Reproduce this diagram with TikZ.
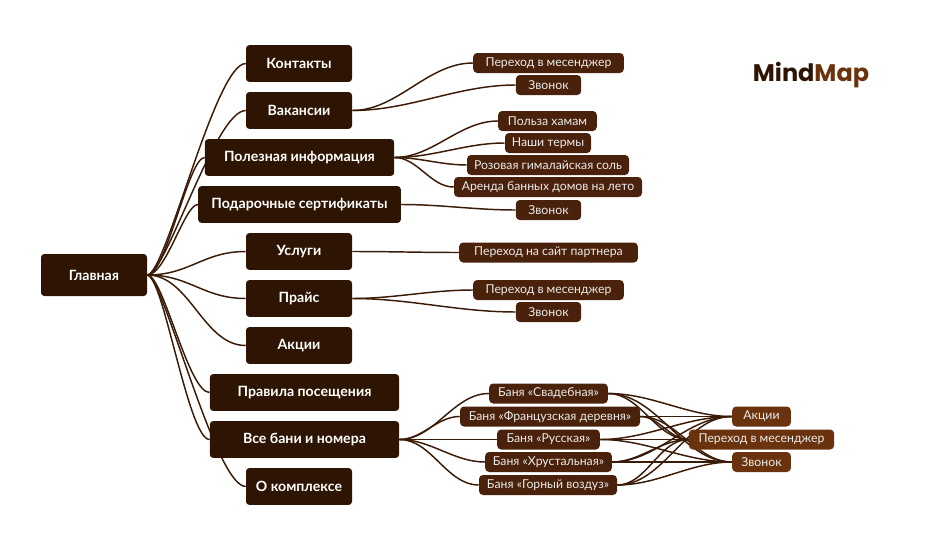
\documentclass[tikz,border=0pt]{standalone}
\usepackage{fontspec}
\setmainfont{Lato}
\newfontfamily\logofont{Poppins}
\usetikzlibrary{backgrounds}
\definecolor{darkbox}{HTML}{2E1503}
\definecolor{midbox}{HTML}{4A220B}
\definecolor{lightbox}{HTML}{6B330D}
\definecolor{linkcol}{HTML}{3A1B07}
\tikzset{
  box/.style={draw=none,fill=darkbox,rounded corners=2.5pt,text=white,font=\fontsize{10.6}{12}\selectfont\bfseries,minimum height=27.6pt,inner sep=0pt},
  sub/.style={fill=midbox,rounded corners=3pt,text=white!92!black,font=\fontsize{9.2}{11}\selectfont,minimum height=15pt,inner sep=0pt},
  acc/.style={sub,fill=lightbox},
  link/.style={draw=linkcol,line width=1.1pt,out=0,in=180,looseness=0.9},
}
\begin{document}
\begin{tikzpicture}[x=0.75pt,y=-0.75pt]
  \useasboundingbox (0,0) rectangle (940,550);

  % корень
  \node[box,minimum width=79.5pt,minimum height=31.5pt] (glav) at (94,275) {Главная};

  % первый уровень
  \node[box,minimum width=79.5pt] (kont) at (299,63.5) {Контакты};
  \node[box,minimum width=79.5pt] (vak) at (299,110.5) {Вакансии};
  \node[box,minimum width=142pt] (pol) at (299.5,157.5) {Полезная информация};
  \node[box,minimum width=152pt] (pod) at (299.5,204.5) {Подарочные сертификаты};
  \node[box,minimum width=79.5pt] (usl) at (299,251.5) {Услуги};
  \node[box,minimum width=79.5pt] (pra) at (299,298.5) {Прайс};
  \node[box,minimum width=79.5pt] (akc) at (299,345.5) {Акции};
  \node[box,minimum width=142pt] (pravila) at (304.5,392.5) {Правила посещения};
  \node[box,minimum width=142pt] (bani) at (304.5,439.5) {Все бани и номера};
  \node[box,minimum width=79.5pt] (kompl) at (299,486.5) {О комплексе};

  % второй уровень
  \node[sub,minimum width=113pt] (vakA) at (548.5,63) {Переход в месенджер};
  \node[sub,minimum width=49pt] (vakB) at (548.5,85) {Звонок};
  \node[sub,minimum width=74pt] (polA) at (547.5,121) {Польза хамам};
  \node[sub,minimum width=64.5pt] (polB) at (548,143) {Наши термы};
  \node[sub,minimum width=121.5pt] (polC) at (548,165) {Розовая гималайская соль};
  \node[sub,minimum width=141pt] (polD) at (548,187) {Аренда банных домов на лето};
  \node[sub,minimum width=49pt] (podA) at (548.5,210) {Звонок};
  \node[sub,minimum width=134pt] (uslA) at (548.5,252.5) {Переход на сайт партнера};
  \node[sub,minimum width=113pt] (praA) at (548.5,290) {Переход в месенджер};
  \node[sub,minimum width=49pt] (praB) at (548.5,312) {Звонок};

  % бани
  \node[sub,minimum width=89pt] (banA) at (548.5,393.5) {Баня «Свадебная»};
  \node[sub,minimum width=135pt] (banB) at (550,416.5) {Баня «Французская деревня»};
  \node[sub,minimum width=77pt] (banC) at (548.5,439.5) {Баня «Русская»};
  \node[sub,minimum width=95pt] (banD) at (548.5,462) {Баня «Хрустальная»};
  \node[sub,minimum width=103.5pt] (banE) at (548,485) {Баня «Горный воздуз»};

  \node[acc,minimum width=44pt] (finA) at (761.5,416.5) {Акции};
  \node[acc,minimum width=109pt] (finB) at (761.5,439.5) {Переход в месенджер};
  \node[acc,minimum width=44pt] (finC) at (761.5,462) {Звонок};

  \node (logo) at (811,75.5) {\logofont\fontsize{18}{20}\selectfont\bfseries\textcolor{darkbox}{Mind}\textcolor{lightbox}{Map}};

  % связи
  \begin{scope}[on background layer]
    % имя/выход/вход
    \foreach \a/\o/\i in {kont/14/23,vak/14/23,pol/14/12,pod/14/10,usl/32/32,pra/32/32,akc/32/32,pravila/12/16,bani/12/16,kompl/12/23} {
      \draw[link,out distance=\o pt,in distance=\i pt] (glav.east) to (\a.west);
    }
    \foreach \a/\b in {vak/vakA,vak/vakB,pol/polA,pol/polB,pol/polC,pol/polD,pod/podA,usl/uslA,pra/praA,pra/praB} {
      \draw[link] (\a.east) to (\b.west);
    }
    \foreach \b in {banA,banB,banC,banD,banE} {
      \draw[link] (bani.east) to (\b.west);
      \foreach \c in {finA,finB,finC} {
        \draw[link] (\b.east) to (\c.west);
      }
    }
  \end{scope}
\end{tikzpicture}
\end{document}
